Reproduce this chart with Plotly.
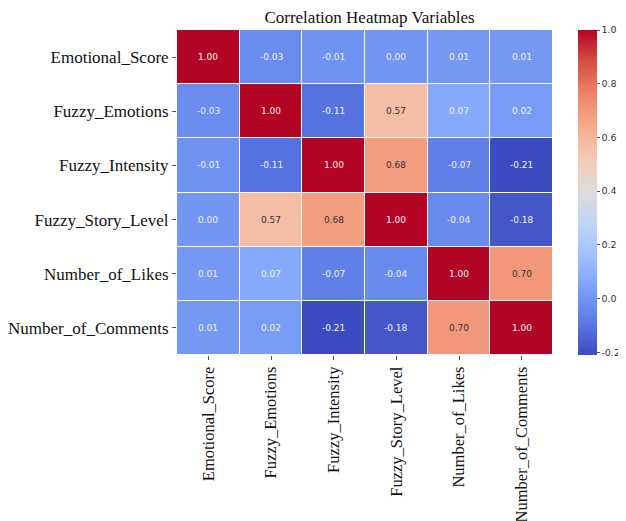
import plotly.graph_objects as go

variables = ["Emotional_Score", "Fuzzy_Emotions", "Fuzzy_Intensity",
             "Fuzzy_Story_Level", "Number_of_Likes", "Number_of_Comments"]

row_emotional_score = [1.00, -0.03, -0.01, 0.00, 0.01, 0.01]
row_fuzzy_emotions = [-0.03, 1.00, -0.11, 0.57, 0.07, 0.02]
row_fuzzy_intensity = [-0.01, -0.11, 1.00, 0.68, -0.07, -0.21]
row_fuzzy_story_level = [0.00, 0.57, 0.68, 1.00, -0.04, -0.18]
row_number_of_likes = [0.01, 0.07, -0.07, -0.04, 1.00, 0.70]
row_number_of_comments = [0.01, 0.02, -0.21, -0.18, 0.70, 1.00]

z = [row_emotional_score, row_fuzzy_emotions, row_fuzzy_intensity,
     row_fuzzy_story_level, row_number_of_likes, row_number_of_comments]

colorbar_ticks = [-0.2, 0.0, 0.2, 0.4, 0.6, 0.8, 1.0]

coolwarm = [
    [0.0, "#3b4cc0"], [0.1, "#5b7ae5"], [0.2, "#7b9ff9"], [0.3, "#9ebeff"],
    [0.4, "#c0d4f5"], [0.5, "#dddcdc"], [0.6, "#f2cbb7"], [0.7, "#f7ac8e"],
    [0.8, "#ee8468"], [0.9, "#d65244"], [1.0, "#b40426"],
]

zmin = min(min(r) for r in z)
zmax = max(max(r) for r in z)

fig = go.Figure(go.Heatmap(
    z=z, x=variables, y=variables,
    colorscale=coolwarm, zmin=zmin, zmax=zmax,
    xgap=1, ygap=1,
    hoverinfo="skip",
    colorbar=dict(
        x=1.066, xanchor="left", xpad=0, y=0.5, yanchor="middle", ypad=0,
        len=1.0, lenmode="fraction", thickness=19,
        outlinewidth=0,
        tickvals=colorbar_ticks, ticktext=[f"{v:.1f}" for v in colorbar_ticks],
        ticks="outside", ticklen=3, tickwidth=1, tickcolor="#555555",
        tickfont=dict(family="DejaVu Sans", size=9.5, color="#333333"),
    ),
))

annotations = []
for i, rname in enumerate(variables):
    for j, cname in enumerate(variables):
        v = z[i][j]
        norm = (v - zmin) / (zmax - zmin)
        dark_text = 0.55 < norm < 0.85
        annotations.append(dict(
            x=cname, y=rname, text=f"{v:.2f}", showarrow=False,
            font=dict(family="DejaVu Sans", size=9,
                      color="#333333" if dark_text else "#f2f2f2"),
        ))

fig.update_layout(
    width=618, height=513,
    margin=dict(l=169, r=73, t=22, b=166, autoexpand=False),
    paper_bgcolor="white", plot_bgcolor="white",
    title=dict(text="Correlation Heatmap Variables", x=0.585, xanchor="center",
               y=0.983, yanchor="middle",
               font=dict(family="Liberation Serif", size=17, color="#111111")),
    annotations=annotations,
    xaxis=dict(tickangle=-90, ticks="outside", ticklen=4, tickcolor="#555555",
               tickfont=dict(family="Liberation Serif", size=16.5, color="#111111"),
               showgrid=False, zeroline=False, showline=False, automargin=False),
    yaxis=dict(autorange="reversed", ticks="outside", ticklen=4, tickcolor="#555555",
               tickfont=dict(family="Liberation Serif", size=17, color="#111111"),
               showgrid=False, zeroline=False, showline=False, automargin=False),
)

fig.write_html("out.html")
